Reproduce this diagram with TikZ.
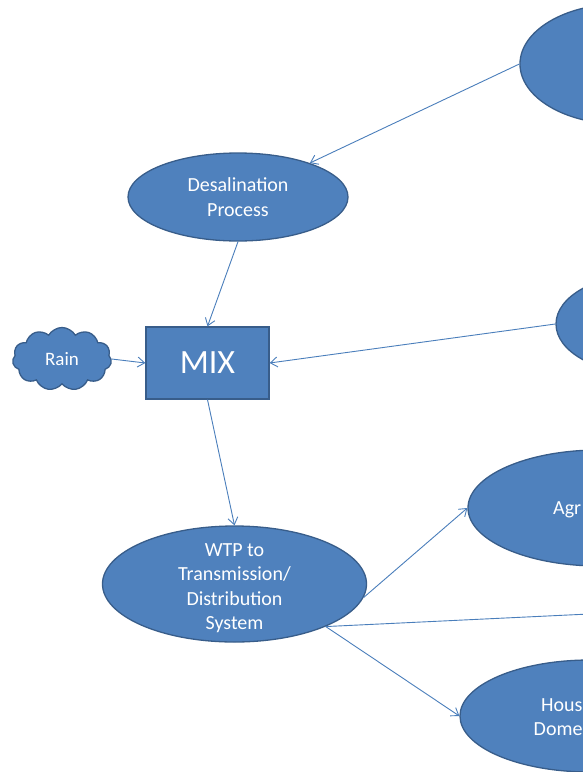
\documentclass[tikz,border=0pt]{standalone}
\usepackage{fontspec}
\setmainfont{Carlito}
\usetikzlibrary{shapes.geometric,shapes.symbols,arrows.meta}
\definecolor{boxfill}{HTML}{4F81BD}
\definecolor{boxline}{HTML}{385D8A}
\definecolor{linkcol}{HTML}{4A7EBB}
\tikzset{
  blob/.style={ellipse, fill=boxfill, draw=boxline, line width=1.3pt, inner sep=0pt,
    text=white, align=center, font=\fontsize{20}{24.5}\selectfont},
  mixbox/.style={rectangle, fill=boxfill, draw=boxline, line width=1.3pt,
    text=white, font=\fontsize{34}{40}\selectfont},
  rainy/.style={cloud, cloud puffs=11, cloud puff arc=120, fill=boxfill, draw=boxline,
    line width=1.3pt, inner sep=0pt, text=white, font=\fontsize{19}{23}\selectfont},
  caption/.style={text=white, inner sep=0pt, align=center, font=\fontsize{20}{24.5}\selectfont},
  link/.style={draw=linkcol, line width=0.9pt, -{Straight Barb[length=7pt,width=10pt]}},
}
\begin{document}
\begin{tikzpicture}[x=1pt,y=-1pt]
\useasboundingbox (0,0) rectangle (583,772);
\clip (0,0) rectangle (583,772);

% sources along the right edge
\node[blob, minimum width=200pt, minimum height=120pt] (sea) at (620,64) {};
\node[blob, minimum width=180pt, minimum height=100pt] (ground) at (646,324) {};

% treatment chain
\node[blob, minimum width=220pt, minimum height=88pt] (desal) at (238,197) {Desalination\\Process};
\node[rainy, minimum width=99pt, minimum height=63pt] (rain) at (62,359) {Rain};
\node[mixbox, minimum width=123pt, minimum height=72pt] (mix) at (207.5,363) {MIX};
\node[blob, minimum width=264pt, minimum height=116pt] (wtp) at (234.5,584) {};
\node[caption] (wtplabel) at (234.5,588) {WTP to\\Transmission/\\Distribution\\System};

% consumers along the right edge
\node[blob, minimum width=262pt, minimum height=116pt] (agri) at (599,508) {};
\node[caption, anchor=base west] (agrilabel) at (553,514) {Agr};
\node[blob, minimum width=260pt, minimum height=112pt] (house) at (590,716) {};
\node[caption, anchor=base west] (houselabel1) at (541,711) {Hous};
\node[caption, anchor=base west] (houselabel2) at (533.5,735) {Dome};
\coordinate (offpage) at (610,613);

% connectors
\draw[link] (sea.west) -- (desal);
\draw[link] (desal.south) -- (mix.north);
\draw[link] (rain.east) -- (mix.west);
\draw[link] (ground.west) -- (mix.east);
\draw[link] (mix.south) -- (wtp.north);
\draw[link] (wtp.-6) -- (agri.west);
\draw[link] (wtp.-25) -- (offpage);
\draw[link] (wtp.-25) -- (house.west);
\end{tikzpicture}
\end{document}
